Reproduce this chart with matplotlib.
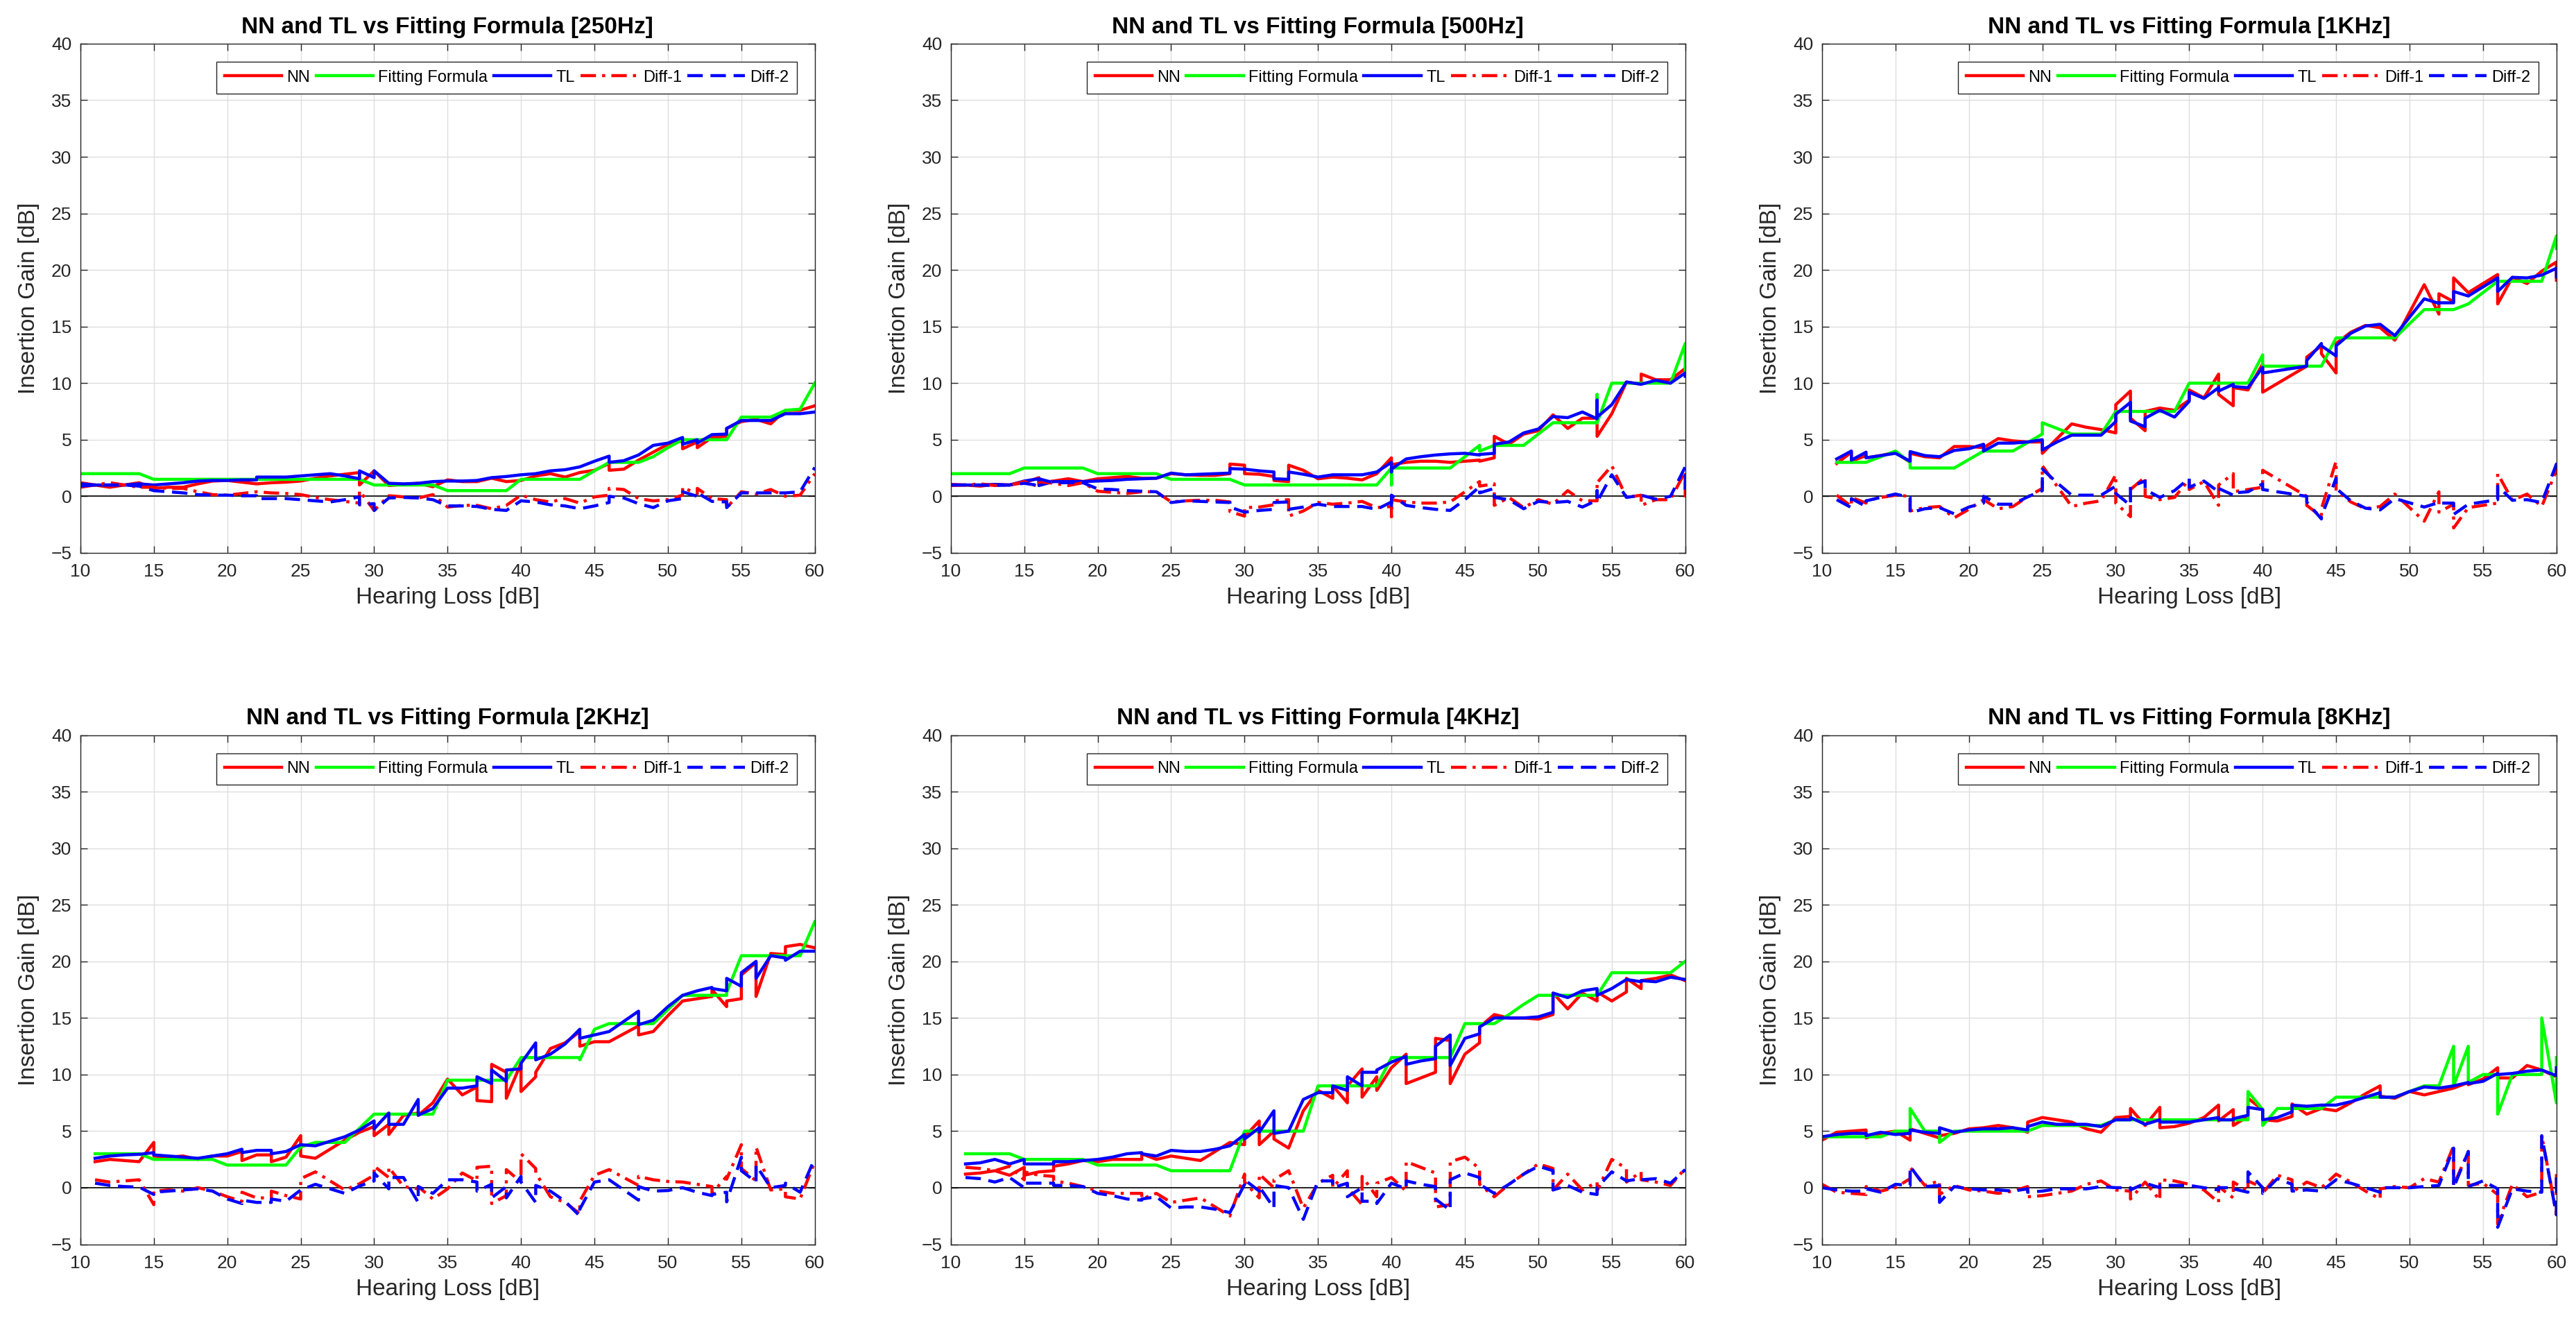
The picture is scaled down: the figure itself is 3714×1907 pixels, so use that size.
import matplotlib
matplotlib.use('Agg')
import matplotlib.pyplot as plt
import numpy as np

plt.rcParams['font.family'] = ['Liberation Sans', 'DejaVu Sans']

# ---- data (hearing loss [dB], insertion gains [dB]) ----
hl_250 = [10, 11, 12, 13, 14, 15, 16, 17, 18, 19, 20, 21, 22, 22, 23, 24, 25, 26, 27, 28, 29, 29, 30, 30,
          31, 32, 33, 34, 35, 36, 37, 38, 39, 40, 41, 42, 43, 44, 45, 46, 46, 47, 48, 49, 50, 51, 51, 52,
          52, 53, 54, 54, 55, 56, 57, 58, 59, 60]
ff_250 = [2.0, 2.0, 2.0, 2.0, 2.0, 1.5, 1.5, 1.5, 1.5, 1.5, 1.5, 1.5, 1.5, 1.5, 1.5, 1.5, 1.5, 1.5, 1.5, 1.5,
          1.5, 1.5, 1.0, 1.0, 1.0, 1.0, 1.0, 1.0, 0.5, 0.5, 0.5, 0.5, 0.5, 1.5, 1.5, 1.5, 1.5, 1.5, 2.25, 3.0,
          3.0, 3.0, 3.0, 3.5, 4.3, 5.0, 5.0, 5.0, 5.0, 5.0, 5.0, 5.0, 7.0, 7.0, 7.0, 7.6, 7.7, 10.0]
nn_250 = [0.8, 1.0, 0.8, 1.0, 1.2, 0.7, 0.8, 0.8, 1.1, 1.35, 1.4, 1.25, 1.1, 1.1, 1.2, 1.25, 1.35, 1.6, 1.8,
          1.95, 2.1, 1.0, 2.25, 2.25, 0.95, 1.05, 1.15, 0.85, 1.45, 1.3, 1.3, 1.6, 1.3, 1.4, 1.8, 2.0, 1.7,
          2.1, 2.3, 2.9, 2.3, 2.4, 3.2, 3.9, 4.6, 4.9, 4.2, 4.8, 4.3, 5.2, 5.3, 6.0, 6.6, 6.8, 6.4, 7.6, 7.6,
          8.0]
tl_250 = [0.9, 1.0, 1.0, 1.0, 1.1, 1.0, 1.1, 1.2, 1.35, 1.4, 1.4, 1.45, 1.45, 1.7, 1.7, 1.7, 1.8, 1.9, 2.0,
          1.8, 1.55, 2.25, 1.65, 2.25, 1.15, 1.1, 1.15, 1.3, 1.35, 1.35, 1.4, 1.65, 1.75, 1.9, 2.0, 2.25,
          2.35, 2.6, 3.1, 3.55, 3.0, 3.15, 3.65, 4.5, 4.7, 5.2, 4.6, 5.0, 4.7, 5.45, 5.5, 6.0, 6.7, 6.7, 6.7,
          7.3, 7.3, 7.45]

hl_500 = [10, 11, 12, 13, 14, 15, 16, 16, 17, 18, 19, 20, 21, 22, 23, 24, 25, 26, 27, 28, 29, 29, 30, 30,
          31, 32, 32, 33, 33, 34, 35, 36, 37, 38, 39, 40, 40, 40, 41, 42, 43, 44, 45, 46, 46, 47, 47, 48,
          49, 50, 51, 52, 53, 54, 54, 54, 55, 56, 57, 57, 58, 59, 60, 60]
ff_500 = [2.0, 2.0, 2.0, 2.0, 2.0, 2.5, 2.5, 2.5, 2.5, 2.5, 2.5, 2.0, 2.0, 2.0, 2.0, 2.0, 1.5, 1.5, 1.5, 1.5,
          1.5, 1.5, 1.0, 1.0, 1.0, 1.0, 1.0, 1.0, 1.0, 1.0, 1.0, 1.0, 1.0, 1.0, 1.0, 2.5, 1.0, 2.5, 2.5, 2.5,
          2.5, 2.5, 3.5, 4.5, 4.0, 4.5, 4.5, 4.5, 4.5, 5.5, 6.5, 6.5, 6.5, 6.5, 9.0, 6.5, 10.0, 10.0, 10.0,
          10.0, 10.0, 10.0, 13.5, 10.9]
nn_500 = [1.05, 1.0, 0.9, 1.05, 1.0, 1.2, 1.65, 1.2, 1.35, 1.55, 1.3, 1.55, 1.65, 1.75, 1.6, 1.6, 2.0, 1.9,
          1.85, 1.85, 2.0, 2.85, 2.75, 2.0, 1.95, 1.75, 1.4, 1.3, 2.75, 2.3, 1.55, 1.7, 1.6, 1.45, 2.0, 3.4,
          2.8, 2.8, 3.0, 3.1, 3.1, 3.0, 3.1, 3.2, 3.1, 3.4, 5.3, 4.6, 5.5, 5.8, 7.2, 6.0, 6.9, 6.9, 7.7, 5.3,
          7.3, 10.1, 9.9, 10.8, 10.3, 10.3, 11.3, 11.0]
tl_500 = [1.0, 1.0, 1.0, 1.05, 1.0, 1.35, 1.55, 0.95, 1.3, 1.3, 1.3, 1.35, 1.4, 1.5, 1.55, 1.6, 2.05, 1.9,
          1.95, 2.0, 2.05, 2.45, 2.4, 2.4, 2.25, 2.15, 1.55, 1.5, 2.15, 1.95, 1.7, 1.9, 1.9, 1.9, 2.15, 3.0,
          2.15, 2.4, 3.3, 3.5, 3.65, 3.75, 3.8, 3.65, 3.7, 3.8, 4.6, 4.8, 5.6, 5.95, 7.05, 6.95, 7.45, 6.85,
          8.5, 7.0, 8.1, 10.1, 9.9, 9.9, 10.25, 10.0, 10.9, 10.6]

hl_1k = [11, 12, 12, 13, 13, 14, 15, 16, 16, 17, 18, 19, 20, 21, 21, 22, 23, 24, 25, 25, 26, 27, 28, 29, 30,
         30, 31, 31, 32, 32, 33, 34, 35, 35, 36, 37, 37, 38, 38, 39, 40, 40, 43, 43, 44, 44, 45, 45, 46, 47,
         48, 49, 51, 52, 52, 53, 53, 54, 56, 56, 57, 58, 59, 60, 60]
ff_1k = [3.0, 3.0, 3.0, 3.0, 3.0, 3.5, 4.0, 3.0, 2.5, 2.5, 2.5, 2.5, 3.25, 4.0, 4.0, 4.0, 4.0, 4.75, 5.5, 6.5,
         6.0, 5.5, 5.5, 5.5, 7.5, 7.5, 7.5, 7.5, 7.5, 7.5, 7.5, 7.5, 10.0, 10.0, 10.0, 10.0, 10.0, 10.0, 10.0,
         10.0, 12.5, 11.5, 11.5, 11.5, 11.5, 11.5, 14.0, 14.0, 14.0, 14.0, 14.0, 14.0, 16.5, 16.5, 16.5, 16.5,
         16.5, 17.0, 19.0, 19.0, 19.0, 19.0, 19.0, 23.0, 21.9]
nn_1k = [2.9, 3.9, 3.1, 3.6, 3.4, 3.6, 3.9, 3.0, 3.8, 3.5, 3.4, 4.4, 4.4, 4.3, 4.3, 5.1, 4.9, 4.8, 4.8, 3.8,
         5.1, 6.4, 6.1, 5.9, 5.6, 8.1, 9.3, 6.9, 5.8, 7.5, 7.8, 7.6, 8.5, 9.4, 8.7, 10.8, 9.0, 8.0, 9.6, 9.4,
         11.7, 9.2, 11.5, 12.3, 13.3, 12.6, 10.9, 13.5, 14.5, 15.1, 14.9, 13.8, 18.7, 16.1, 17.9, 17.2, 19.3,
         18.0, 19.6, 17.0, 19.35, 18.8, 19.9, 20.7, 19.1]
tl_1k = [3.3, 4.0, 3.2, 3.9, 3.4, 3.6, 3.8, 3.1, 3.95, 3.6, 3.5, 4.05, 4.2, 4.6, 4.0, 4.7, 4.7, 4.8, 5.0, 4.1,
         4.8, 5.4, 5.4, 5.4, 6.6, 7.25, 8.3, 6.65, 6.15, 6.9, 7.6, 7.0, 8.4, 9.2, 8.65, 9.6, 9.3, 9.9, 9.7,
         9.6, 11.4, 10.9, 11.5, 12.0, 13.5, 13.3, 12.4, 13.3, 14.4, 15.05, 15.2, 14.2, 17.45, 17.05, 17.1,
         17.1, 18.1, 17.7, 19.3, 18.1, 19.35, 19.3, 19.55, 20.15, 19.4]

hl_2k = [11, 12, 13, 14, 15, 15, 16, 17, 18, 19, 20, 21, 21, 22, 23, 23, 24, 25, 25, 26, 27, 28, 29, 30, 30,
         31, 31, 32, 33, 33, 34, 35, 36, 37, 37, 38, 38, 39, 39, 40, 40, 41, 41, 42, 43, 44, 44, 45, 46, 47,
         48, 48, 49, 50, 51, 52, 53, 53, 54, 54, 55, 55, 56, 56, 57, 58, 58, 59, 60]
ff_2k = [3.0, 3.0, 3.0, 3.0, 2.5, 2.5, 2.5, 2.5, 2.5, 2.5, 2.0, 2.0, 2.0, 2.0, 2.0, 2.0, 2.0, 3.6, 3.6, 4.0,
         4.0, 4.0, 5.25, 6.5, 6.5, 6.5, 6.5, 6.5, 6.5, 6.5, 6.5, 9.5, 9.5, 9.5, 9.5, 9.5, 9.5, 9.5, 9.5, 11.5,
         11.5, 11.5, 11.5, 11.5, 11.5, 11.5, 11.3, 14.0, 14.5, 14.5, 14.5, 14.5, 14.5, 15.75, 17.0, 17.0,
         17.0, 17.0, 17.0, 17.25, 20.5, 20.5, 20.5, 20.5, 20.5, 20.5, 20.5, 20.5, 23.5]
nn_2k = [2.3, 2.5, 2.4, 2.3, 4.0, 2.8, 2.7, 2.8, 2.5, 2.8, 2.8, 3.2, 2.4, 2.9, 2.9, 2.3, 2.7, 4.6, 2.8, 2.6,
         3.4, 4.2, 4.9, 5.4, 4.6, 5.6, 4.7, 6.4, 6.6, 6.4, 7.5, 9.6, 8.2, 8.9, 7.7, 7.6, 10.9, 10.2, 7.9,
         11.0, 8.5, 9.8, 10.2, 12.3, 12.8, 13.8, 12.5, 12.9, 12.9, 13.6, 14.3, 13.5, 13.8, 15.2, 16.5, 16.7,
         16.9, 17.5, 16.0, 16.5, 16.7, 18.8, 19.9, 16.9, 20.7, 20.6, 21.3, 21.5, 21.2]
tl_2k = [2.6, 2.8, 2.9, 2.95, 3.1, 2.9, 2.8, 2.7, 2.6, 2.8, 3.0, 3.4, 3.1, 3.3, 3.3, 3.0, 3.2, 3.8, 3.8, 3.7,
         4.1, 4.5, 5.1, 5.9, 5.2, 6.6, 5.6, 5.6, 7.8, 6.4, 7.0, 8.8, 8.8, 9.0, 9.8, 9.2, 10.4, 9.4, 10.4,
         10.5, 11.0, 12.8, 11.3, 11.8, 12.7, 14.0, 13.2, 13.5, 13.8, 14.7, 15.6, 14.4, 14.8, 16.0, 17.0,
         17.4, 17.7, 17.6, 17.4, 18.5, 17.8, 19.0, 20.0, 18.5, 20.5, 20.3, 20.1, 20.9, 20.9]

hl_4k = [11, 12, 13, 14, 15, 15, 16, 17, 17, 18, 19, 20, 21, 22, 23, 23, 24, 25, 26, 27, 28, 29, 30, 30, 31,
         31, 32, 32, 33, 34, 35, 36, 36, 37, 37, 38, 38, 39, 39, 40, 41, 41, 42, 43, 43, 44, 44, 45, 46, 46,
         47, 48, 49, 50, 51, 51, 52, 53, 54, 54, 55, 56, 56, 57, 57, 58, 59, 60]
ff_4k = [3.0, 3.0, 3.0, 3.0, 2.5, 2.5, 2.5, 2.5, 2.5, 2.5, 2.5, 2.0, 2.0, 2.0, 2.0, 2.0, 2.0, 1.5, 1.5, 1.5,
         1.5, 1.5, 5.0, 5.0, 5.0, 5.0, 5.0, 5.0, 5.0, 5.0, 9.0, 9.0, 9.0, 9.0, 9.0, 9.0, 9.0, 9.0, 9.0, 11.5,
         11.5, 11.5, 11.5, 11.5, 11.5, 11.5, 11.5, 14.5, 14.5, 14.5, 14.5, 15.3, 16.2, 17.0, 17.0, 17.0,
         17.0, 17.0, 17.0, 17.0, 19.0, 19.0, 19.0, 19.0, 19.0, 19.0, 19.0, 20.0]
nn_4k = [1.2, 1.3, 1.5, 1.1, 1.8, 1.1, 1.4, 1.5, 1.9, 2.1, 2.4, 2.3, 2.5, 2.5, 2.5, 3.0, 2.5, 2.8, 2.6, 2.4,
         3.2, 4.0, 3.8, 4.5, 5.9, 3.8, 5.0, 4.3, 3.5, 6.8, 8.6, 7.9, 9.0, 7.5, 9.0, 10.5, 8.0, 9.8, 8.6,
         10.6, 11.8, 9.2, 9.7, 10.2, 13.2, 13.0, 9.2, 11.8, 12.8, 14.2, 15.3, 15.0, 15.0, 14.9, 15.3, 17.2,
         15.8, 17.2, 16.5, 17.3, 16.5, 17.3, 18.5, 17.6, 18.3, 18.5, 18.8, 18.3]
tl_4k = [2.1, 2.2, 2.5, 2.1, 2.5, 2.1, 2.1, 2.1, 2.3, 2.3, 2.4, 2.5, 2.7, 3.0, 3.1, 3.0, 2.8, 3.3, 3.2, 3.2,
         3.4, 3.7, 4.7, 4.3, 5.3, 4.9, 6.8, 4.8, 5.0, 7.8, 8.4, 8.4, 9.0, 8.6, 9.8, 9.0, 10.2, 10.2, 10.4,
         11.1, 11.6, 10.9, 11.2, 11.4, 12.5, 13.5, 10.8, 13.2, 13.6, 14.2, 15.0, 15.0, 15.0, 15.1, 15.5,
         17.2, 16.8, 17.4, 17.6, 17.0, 17.6, 18.4, 18.4, 18.2, 18.3, 18.2, 18.6, 18.4]

hl_8k = [10, 11, 12, 13, 13, 14, 15, 16, 16, 17, 18, 18, 19, 20, 21, 22, 23, 24, 24, 25, 26, 27, 28, 29, 30,
         31, 31, 32, 33, 33, 34, 35, 36, 37, 37, 38, 38, 39, 39, 40, 40, 41, 42, 42, 43, 44, 45, 46, 47, 48,
         48, 49, 50, 51, 52, 53, 53, 54, 54, 55, 56, 56, 57, 58, 59, 59, 60, 60]
ff_8k = [4.5, 4.5, 4.5, 4.5, 4.5, 4.5, 5.0, 5.0, 7.0, 5.0, 5.0, 4.0, 5.0, 5.0, 5.0, 5.0, 5.0, 5.0, 5.0, 5.5,
         5.5, 5.5, 5.5, 5.5, 6.0, 6.0, 6.0, 6.0, 6.0, 6.0, 6.0, 6.0, 6.0, 6.0, 6.0, 6.0, 6.0, 6.0, 8.5, 6.9,
         5.5, 7.0, 7.0, 7.0, 7.0, 7.0, 8.0, 8.0, 8.0, 8.0, 8.0, 8.0, 8.5, 9.0, 9.0, 12.5, 9.0, 12.5, 9.3,
         10.0, 10.0, 6.5, 10.0, 10.0, 10.0, 15.0, 7.5, 11.5]
nn_8k = [4.2, 4.9, 5.0, 5.1, 4.4, 4.8, 5.0, 4.2, 5.2, 4.8, 4.4, 4.6, 4.8, 5.2, 5.3, 5.5, 5.3, 4.9, 5.8, 6.2,
         6.0, 5.8, 5.2, 4.9, 6.2, 6.3, 7.0, 5.5, 7.1, 5.3, 5.4, 5.7, 6.2, 7.3, 5.9, 6.9, 5.5, 6.3, 7.9, 6.9,
         6.0, 5.9, 6.3, 7.4, 6.5, 7.0, 6.8, 7.5, 8.3, 9.0, 8.1, 7.9, 8.5, 8.2, 8.5, 8.8, 8.8, 9.3, 9.1, 9.6,
         10.6, 9.7, 9.7, 10.8, 10.4, 10.4, 9.8, 10.3]
tl_8k = [4.5, 4.7, 4.8, 4.8, 4.6, 4.9, 4.7, 4.8, 5.1, 4.9, 4.8, 5.3, 4.9, 5.1, 5.2, 5.2, 5.3, 5.1, 5.4, 5.8,
         5.6, 5.6, 5.6, 5.4, 6.0, 6.0, 6.2, 5.6, 6.0, 5.8, 5.8, 5.8, 6.0, 6.2, 6.0, 6.0, 6.1, 6.4, 7.1, 6.9,
         6.0, 6.2, 6.7, 7.3, 7.2, 7.3, 7.3, 7.6, 8.0, 8.4, 8.0, 8.0, 8.5, 8.9, 8.8, 9.0, 9.0, 9.3, 9.2, 9.4,
         10.1, 10.0, 10.1, 10.3, 10.4, 10.4, 9.9, 10.6]

freqs = ['250Hz', '500Hz', '1KHz', '2KHz', '4KHz', '8KHz']
panels = [(hl_250, nn_250, ff_250, tl_250), (hl_500, nn_500, ff_500, tl_500),
          (hl_1k, nn_1k, ff_1k, tl_1k), (hl_2k, nn_2k, ff_2k, tl_2k),
          (hl_4k, nn_4k, ff_4k, tl_4k), (hl_8k, nn_8k, ff_8k, tl_8k)]

LW = 3.2
DARK = '#262626'


def draw_panel(ax, hl, nn, ff, tl, freq):
    hl, nn, ff, tl = (np.asarray(a, dtype=float) for a in (hl, nn, ff, tl))
    assert len(hl) == len(nn) == len(ff) == len(tl), freq

    ax.axhline(0, color='k', lw=1.2, zorder=1.5)
    ax.plot(hl, nn, color=(1, 0, 0), lw=LW, label='NN')
    ax.plot(hl, ff, color=(0, 1, 0), lw=LW, label='Fitting Formula')
    ax.plot(hl, tl, color=(0, 0, 1), lw=LW, label='TL')
    # differences to the fitting formula
    ax.plot(hl, ff - nn, color=(1, 0, 0), lw=LW, dashes=(5, 2, 1, 2), label='Diff-1')
    ax.plot(hl, ff - tl, color=(0, 0, 1), lw=LW, dashes=(5, 2.5), label='Diff-2')

    ax.set_xlim(10, 60)
    ax.set_ylim(-5, 40)
    ax.set_xticks(np.arange(10, 61, 5))
    ax.set_yticks(np.arange(-5, 41, 5))
    ax.grid(True, color='#dedede', lw=1.0)
    ax.set_axisbelow(True)
    ax.tick_params(direction='in', length=7, width=1.0, top=True, right=True,
                   colors=DARK, labelsize=19)
    ax.tick_params(axis='x', pad=11)
    ax.tick_params(axis='y', pad=9)
    for sp in ax.spines.values():
        sp.set_color(DARK)
        sp.set_linewidth(1.0)

    ax.set_title('NN and TL vs Fitting Formula [%s]' % freq, fontsize=24,
                 fontweight='bold', pad=11)
    ax.set_xlabel('Hearing Loss [dB]', fontsize=24, color=DARK, labelpad=7)
    ax.set_ylabel('Insertion Gain [dB]', fontsize=24, color=DARK, labelpad=12)

    leg = ax.legend(loc='upper right', ncol=5, fontsize=17, frameon=True, fancybox=False,
                    edgecolor=DARK, framealpha=1, borderpad=0.5, handlelength=3.5,
                    handletextpad=0.3, columnspacing=0.35, borderaxespad=1.1)
    leg.get_frame().set_linewidth(1.0)


fig = plt.figure(figsize=(37.14, 19.07), dpi=100)
lefts = [0.0312, 0.3691, 0.7073]
bottoms = [0.5821, 0.0595]
w, h = 0.2851, 0.3849

for i, (data, freq) in enumerate(zip(panels, freqs)):
    ax = fig.add_axes([lefts[i % 3], bottoms[i // 3], w, h])
    draw_panel(ax, *data, freq)

fig.savefig('out.png', dpi=100)
